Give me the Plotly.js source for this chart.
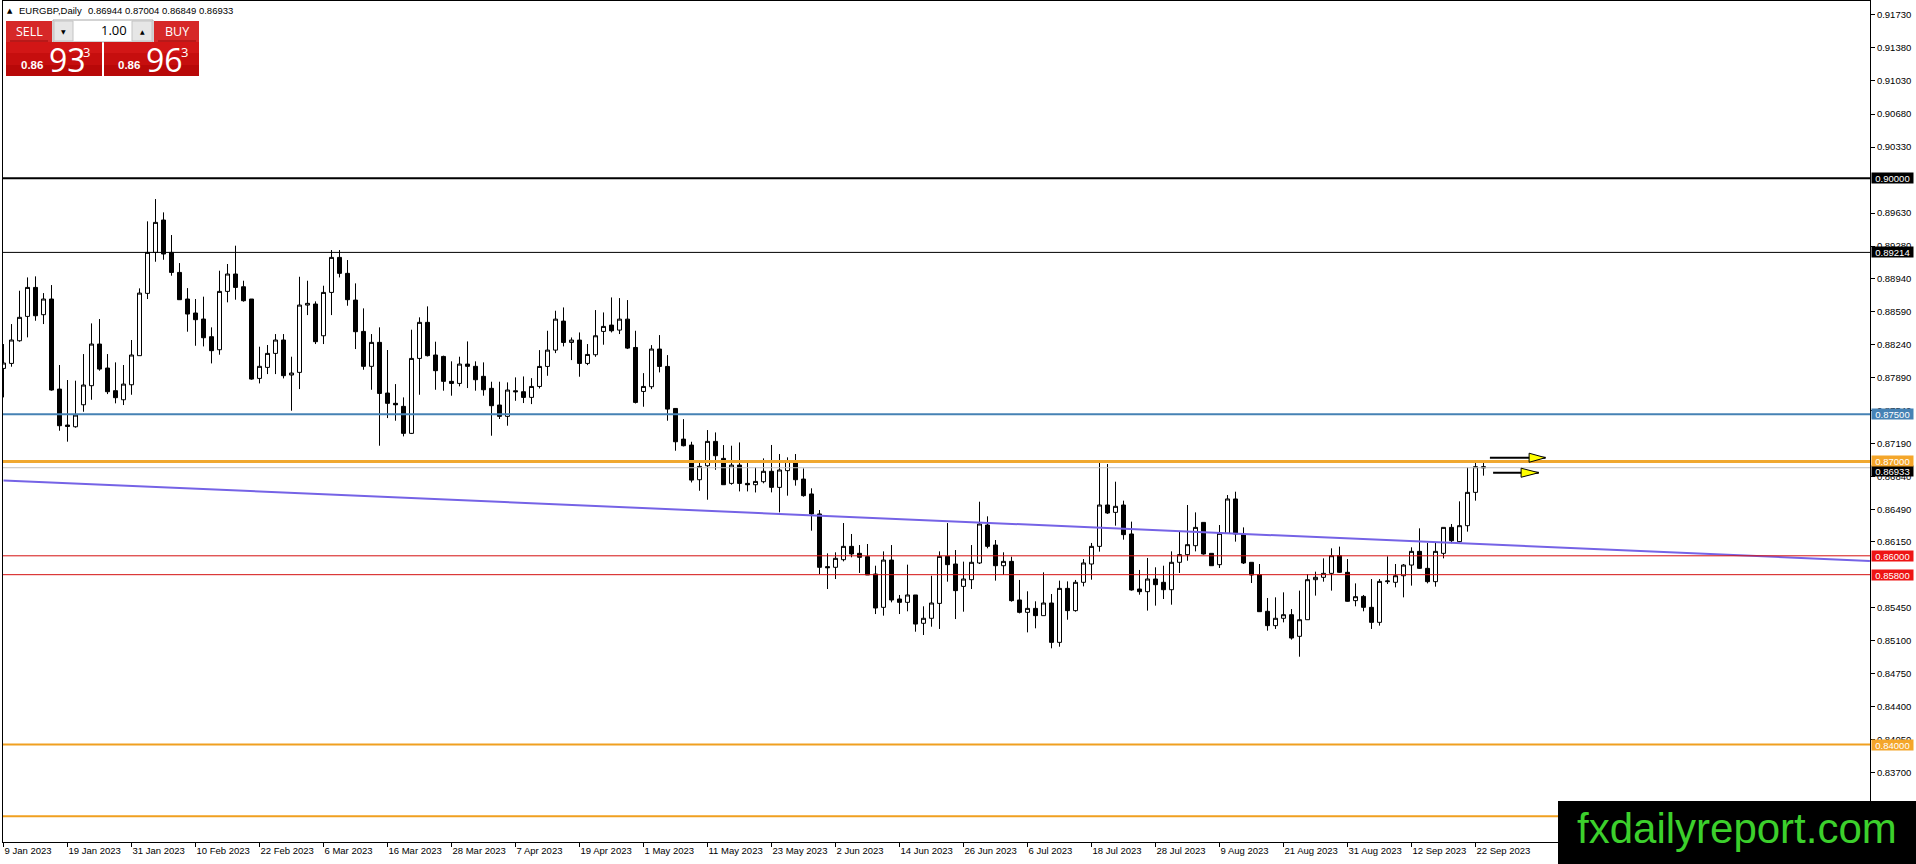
<!DOCTYPE html>
<html><head><meta charset="utf-8">
<script src="https://cdn.plot.ly/plotly-3.0.1.min.js"></script>
<style>html,body{margin:0;padding:0;background:#fff;overflow:hidden}#chart{width:1916px;height:864px}</style>
</head><body><div id="chart"></div>
<script>
// ---------------- DATA ----------------
const symbolTitle = "EURGBP,Daily";
const headerQuote = ["0.86944", "0.87004", "0.86849", "0.86933"];
const sellQuote = ["0.86", "93", "3"];
const buyQuote = ["0.86", "96", "3"];
const lotSize = "1.00";

const openP = [
0.87985,0.88038,0.88278,0.88536,0.88843,0.88554,0.88720,0.87766,0.87385,0.87367,
0.87600,0.87802,0.88243,0.87989,0.87749,0.87653,0.87812,0.88120,0.88780,0.89214,
0.89557,0.89214,0.89002,0.88720,0.88572,0.88508,0.88321,0.88183,0.88801,0.88985,
0.88850,0.88720,0.87879,0.87996,0.88144,0.88286,0.87915,0.87943,0.88656,0.88667,
0.88331,0.88790,0.89161,0.88992,0.88709,0.88377,0.88007,0.88261,0.87724,0.87615,
0.87583,0.87297,0.88091,0.88473,0.88127,0.88112,0.87848,0.87826,0.88031,0.88007,
0.87901,0.87774,0.87597,0.87477,0.87748,0.87738,0.87678,0.87794,0.88006,0.88179,
0.88486,0.88260,0.88285,0.88038,0.88130,0.88377,0.88444,0.88391,0.88507,0.88207,
0.87741,0.87791,0.88190,0.88006,0.87561,0.87236,0.87173,0.86806,0.86954,0.87212,
0.87032,0.86767,0.86961,0.86767,0.86753,0.86785,0.86895,0.86725,0.86902,0.87001,
0.86813,0.86655,0.86443,0.85885,0.85878,0.85959,0.86100,0.86026,0.85991,0.85807,
0.85454,0.85955,0.85542,0.85507,0.85585,0.85285,0.85338,0.85496,0.85994,0.85913,
0.85676,0.85747,0.85924,0.86326,0.86114,0.85895,0.85941,0.85532,0.85401,0.85443,
0.85366,0.85500,0.85083,0.85655,0.85419,0.85719,0.85913,0.86100,0.86538,0.86460,
0.86538,0.86231,0.85648,0.85620,0.85754,0.85719,0.85641,0.85931,0.86012,0.86107,
0.86354,0.86026,0.85906,0.86238,0.86602,0.86231,0.85931,0.85800,0.85412,0.85260,
0.85338,0.85376,0.85147,0.85323,0.85747,0.85772,0.85814,0.86001,0.85825,0.85525,
0.85570,0.85454,0.85295,0.85726,0.85719,0.85789,0.85902,0.86047,0.85867,0.85726,
0.86026,0.86301,0.86150,0.86319,0.86672,0.86944];
const highP = [
0.88243,0.88455,0.88808,0.88949,0.88960,0.88783,0.88868,0.88021,0.87862,0.87855,
0.88137,0.88462,0.88508,0.88137,0.88049,0.88021,0.88286,0.88833,0.89543,0.89779,
0.89638,0.89398,0.89101,0.88836,0.88720,0.88745,0.88420,0.89020,0.89091,0.89285,
0.88914,0.88720,0.88215,0.88233,0.88349,0.88349,0.88109,0.88956,0.88914,0.88695,
0.88861,0.89239,0.89239,0.89133,0.88886,0.88621,0.88349,0.88420,0.88180,0.87819,
0.87678,0.88395,0.88526,0.88642,0.88268,0.88120,0.88060,0.88109,0.88271,0.88060,
0.88049,0.87844,0.87844,0.87837,0.87890,0.87900,0.87882,0.88179,0.88384,0.88596,
0.88631,0.88313,0.88366,0.88243,0.88603,0.88578,0.88737,0.88730,0.88709,0.88384,
0.87935,0.88232,0.88338,0.88126,0.87561,0.87448,0.87208,0.87014,0.87332,0.87307,
0.87173,0.87166,0.87201,0.86996,0.86936,0.87032,0.87174,0.87078,0.87043,0.87078,
0.86926,0.86715,0.86485,0.86026,0.86037,0.86347,0.86231,0.86114,0.86125,0.85895,
0.86047,0.86114,0.85585,0.85906,0.85585,0.85465,0.85789,0.86047,0.86347,0.86061,
0.85938,0.86114,0.86573,0.86418,0.86167,0.86037,0.85991,0.85744,0.85624,0.85518,
0.85825,0.85595,0.85737,0.85729,0.85744,0.85966,0.86136,0.86997,0.86972,0.86785,
0.86584,0.86362,0.85850,0.85977,0.85878,0.85895,0.86047,0.86259,0.86538,0.86460,
0.86354,0.86026,0.86326,0.86644,0.86679,0.86301,0.85931,0.85913,0.85553,0.85560,
0.85613,0.85436,0.85631,0.85807,0.85832,0.85973,0.86079,0.86097,0.85966,0.85708,
0.85585,0.85754,0.85754,0.85994,0.85913,0.85913,0.86090,0.86291,0.86136,0.86136,
0.86301,0.86337,0.86577,0.86937,0.86983,0.87004];
const lowP = [
0.87678,0.88003,0.88268,0.88314,0.88490,0.88455,0.87749,0.87325,0.87209,0.87357,
0.87526,0.87653,0.87961,0.87713,0.87615,0.87597,0.87706,0.88120,0.88720,0.89115,
0.89136,0.88967,0.88713,0.88374,0.88225,0.88218,0.88038,0.88130,0.88685,0.88713,
0.88692,0.87865,0.87826,0.87925,0.87925,0.87879,0.87537,0.87766,0.88550,0.88243,
0.88243,0.88550,0.88949,0.88649,0.88190,0.87971,0.87759,0.87166,0.87459,0.87431,
0.87265,0.87290,0.87706,0.88112,0.87759,0.87749,0.87696,0.87795,0.87777,0.87749,
0.87696,0.87272,0.87449,0.87378,0.87642,0.87618,0.87607,0.87773,0.87907,0.88147,
0.88218,0.88073,0.87897,0.88020,0.88108,0.88236,0.88366,0.88349,0.88190,0.87614,
0.87579,0.87766,0.87943,0.87431,0.87113,0.87159,0.86777,0.86689,0.86594,0.86911,
0.86753,0.86753,0.86682,0.86682,0.86671,0.86768,0.86672,0.86460,0.86637,0.86743,
0.86626,0.86266,0.85807,0.85648,0.85754,0.85941,0.85984,0.85818,0.85797,0.85383,
0.85366,0.85507,0.85383,0.85412,0.85196,0.85161,0.85249,0.85225,0.85726,0.85330,
0.85408,0.85648,0.85913,0.86079,0.85737,0.85797,0.85514,0.85390,0.85189,0.85232,
0.85366,0.85020,0.85037,0.85323,0.85408,0.85676,0.85747,0.86044,0.86443,0.86319,
0.86171,0.85631,0.85588,0.85419,0.85472,0.85542,0.85482,0.85818,0.85948,0.86047,
0.86012,0.85895,0.85871,0.86231,0.86150,0.85913,0.85712,0.85408,0.85207,0.85225,
0.85295,0.85112,0.84931,0.85323,0.85578,0.85726,0.85631,0.85818,0.85514,0.85465,
0.85412,0.85225,0.85260,0.85701,0.85666,0.85560,0.85684,0.85860,0.85708,0.85673,
0.85973,0.86132,0.86143,0.86256,0.86584,0.86849];
const closeP = [
0.88042,0.88286,0.88526,0.88843,0.88543,0.88720,0.87756,0.87378,0.87371,0.87491,
0.87809,0.88243,0.87978,0.87738,0.87675,0.87819,0.88127,0.88783,0.89214,0.89532,
0.89197,0.89002,0.88713,0.88561,0.88501,0.88310,0.88173,0.88801,0.88985,0.88843,
0.88702,0.87872,0.88007,0.88144,0.88286,0.87908,0.87936,0.88656,0.88674,0.88268,
0.88790,0.89161,0.88992,0.88713,0.88374,0.88007,0.88261,0.87720,0.87615,0.87600,
0.87297,0.88091,0.88473,0.88120,0.87961,0.87848,0.87826,0.88031,0.88007,0.87865,
0.87759,0.87590,0.87477,0.87756,0.87738,0.87678,0.87794,0.88006,0.88179,0.88507,
0.88260,0.88285,0.88038,0.88133,0.88331,0.88430,0.88384,0.88507,0.88200,0.87625,
0.87794,0.88190,0.88006,0.87554,0.87208,0.87166,0.86802,0.86947,0.87212,0.87060,
0.86753,0.86961,0.86767,0.86753,0.86788,0.86895,0.86725,0.86909,0.87001,0.86806,
0.86637,0.86443,0.85878,0.85874,0.85973,0.86100,0.86019,0.85984,0.85797,0.85447,
0.85955,0.85532,0.85507,0.85585,0.85277,0.85338,0.85500,0.85994,0.85906,0.85631,
0.85754,0.85931,0.86337,0.86100,0.85895,0.85941,0.85525,0.85401,0.85443,0.85366,
0.85500,0.85083,0.85655,0.85419,0.85719,0.85924,0.86100,0.86538,0.86453,0.86524,
0.86224,0.85638,0.85620,0.85754,0.85694,0.85641,0.85931,0.86012,0.86118,0.86301,
0.86019,0.85895,0.86238,0.86602,0.86231,0.85924,0.85797,0.85408,0.85260,0.85338,
0.85376,0.85129,0.85323,0.85747,0.85772,0.85814,0.86001,0.85825,0.85518,0.85567,
0.85454,0.85295,0.85729,0.85733,0.85789,0.85902,0.86047,0.85867,0.85726,0.86047,
0.86301,0.86160,0.86319,0.86672,0.86944,0.86933];

const xTickLabels = ["9 Jan 2023","19 Jan 2023","31 Jan 2023","10 Feb 2023","22 Feb 2023","6 Mar 2023",
  "16 Mar 2023","28 Mar 2023","7 Apr 2023","19 Apr 2023","1 May 2023","11 May 2023","23 May 2023",
  "2 Jun 2023","14 Jun 2023","26 Jun 2023","6 Jul 2023","18 Jul 2023","28 Jul 2023","9 Aug 2023",
  "21 Aug 2023","31 Aug 2023","12 Sep 2023","22 Sep 2023"];
const barsPerTick = 8;
// visible price scale labels (those fully hidden under level boxes / watermark are not drawn)
const yTickLabels = ["0.91730","0.91380","0.91030","0.90680","0.90330","0.89630","0.89280",
  "0.88940","0.88590","0.88240","0.87890","0.87540","0.87190","0.86840","0.86490","0.86150",
  "0.85450","0.85100","0.84750","0.84400","0.84050","0.83700"];

// horizontal levels (bid line first so the other boxes are drawn over it)
const levelPrices = [0.86933, 0.90000, 0.89214, 0.87500, 0.87000, 0.86000, 0.85800, 0.84000, 0.83240];
const levelColors = ["#C0C0C0","#000000","#000000","#4682B4","#F0A830","#D41010","#D41010","#F0A020","#F0A020"];
const levelWidths = [1, 2, 1, 2, 3, 1, 1, 2, 2];
const levelLabelBg = ["#000000","#000000","#000000","#4682B4","#F4A62A","#EE1414","#EE1414","#F4A62A", null];
const levelLabelShift = [-3.5, 0, 0, 0, 0, 0, 0, 0, 0];

// trend line (bar index, price)
const trendX = [0, 233.3];
const trendY = [0.86798, 0.85946];

// arrow objects
const arrowStart = [185.8, 186.2];
const arrowHead = [190.7, 189.7];
const arrowTip = [192.75, 191.9];
const arrowPrice = [0.87039, 0.86880];

const watermark = "fxdailyreport.com";

// ---------------- LAYOUT ----------------
const W = 1916, H = 864, ML = 3, MR = 46, MT = 1, MB = 22;
const PW = W - ML - MR, PH = H - MT - MB;
const px = x => (x - ML) / PW;
const py = y => (H - MB - y) / PH;
const FONT = "Liberation Sans, Arial, sans-serif";

const idx = openP.map((_, i) => i);

const traces = [{
  type: 'candlestick', x: idx, open: openP, high: highP, low: lowP, close: closeP,
  increasing: {line: {color: '#000', width: 1}, fillcolor: '#ffffff'},
  decreasing: {line: {color: '#000', width: 1}, fillcolor: '#000000'},
  whiskerwidth: 0, hoverinfo: 'skip', showlegend: false
}, {
  type: 'scatter', mode: 'lines', x: trendX, y: trendY,
  line: {color: '#7563E6', width: 2}, hoverinfo: 'skip', showlegend: false
}];

const shapes = [];
const annotations = [];

levelPrices.forEach((p, i) => {
  shapes.push({type: 'line', xref: 'paper', x0: 0, x1: 1, yref: 'y', y0: p, y1: p,
    line: {color: levelColors[i], width: levelWidths[i]}, layer: 'above'});
});

// arrows
arrowPrice.forEach((p, i) => {
  shapes.push({type: 'line', xref: 'x', yref: 'y', x0: arrowStart[i], x1: arrowTip[i], y0: p, y1: p,
    line: {color: '#000', width: 2}, layer: 'above'});
  const hh = 0.00048;
  shapes.push({type: 'path', xref: 'x', yref: 'y',
    path: `M ${arrowHead[i]},${p + hh} L ${arrowTip[i]},${p} L ${arrowHead[i]},${p - hh} Z`,
    fillcolor: '#FFFF00', line: {color: '#000', width: 1}, layer: 'above'});
});

// watermark box
shapes.push({type: 'rect', xref: 'paper', yref: 'paper', x0: px(1558), x1: px(1920), y0: py(868), y1: py(801),
  fillcolor: '#000', line: {width: 0}, layer: 'above'});
annotations.push({xref: 'paper', yref: 'paper', x: px(1737), y: py(828), xanchor: 'center', yanchor: 'middle',
  text: watermark, showarrow: false, font: {family: FONT, size: 42, color: '#3CD02C'}});

// price labels on right axis
levelPrices.forEach((p, i) => {
  if (!levelLabelBg[i]) return;
  annotations.push({xref: 'paper', x: 1, xanchor: 'left', xshift: 1, yref: 'y', y: p, yanchor: 'middle',
    yshift: levelLabelShift[i],
    text: p.toFixed(5), showarrow: false, bgcolor: levelLabelBg[i], borderpad: 0, width: 41, height: 10,
    font: {family: FONT, size: 9.5, color: '#ffffff'}});
});

// header text
annotations.push({xref: 'paper', yref: 'paper', x: px(6), y: py(11), xanchor: 'left', yanchor: 'middle',
  text: '▲', showarrow: false, borderpad: 0, font: {family: 'DejaVu Sans', size: 7, color: '#000'}});
annotations.push({xref: 'paper', yref: 'paper', x: px(18), y: py(11), xanchor: 'left', yanchor: 'middle',
  text: symbolTitle, showarrow: false, borderpad: 0, font: {family: FONT, size: 9.5, color: '#000'}});
annotations.push({xref: 'paper', yref: 'paper', x: px(87), y: py(11), xanchor: 'left', yanchor: 'middle',
  text: headerQuote.join(' '), showarrow: false, borderpad: 0, font: {family: FONT, size: 9.5, color: '#000'}});

// one-click trading panel
function rect(x0, y0, x1, y1, fill, lineColor, lw) {
  shapes.push({type: 'rect', xref: 'paper', yref: 'paper', x0: px(x0), x1: px(x1), y0: py(y1), y1: py(y0),
    fillcolor: fill, line: {color: lineColor || fill, width: lw || 0}, layer: 'above'});
}
rect(6, 21, 52, 42, '#D62828');
rect(154, 21, 199, 42, '#D62828');
rect(10, 40.5, 48, 41.5, '#9A0A0A');
rect(158, 40.5, 196, 41.5, '#9A0A0A');
rect(53, 20, 153, 42, '#ffffff', '#A8A8A8', 1);
rect(54, 21, 73, 41, '#E6E6E6', '#C4C4C4', 1);
rect(132, 21, 152, 41, '#E6E6E6', '#C4C4C4', 1);
[[6, 102], [104, 199]].forEach(([a, b]) => {
  rect(a, 42, b, 53, '#D21616');
  rect(a, 53, b, 65, '#C60E0E');
  rect(a, 65, b, 76, '#B80808');
});
function txt(x, y, t, size, color, anchor, weight, family) {
  annotations.push({xref: 'paper', yref: 'paper', x: px(x), y: py(y), xanchor: anchor || 'left', yanchor: 'middle',
    text: t, showarrow: false, borderpad: 0,
    font: {family: family || FONT, size: size, color: color, weight: weight || 'normal'}});
}
txt(29, 31, 'SELL', 12.5, '#fff', 'center', 'normal', 'Open Sans');
txt(176.5, 31, 'BUY', 12.5, '#fff', 'center', 'normal', 'Open Sans');
txt(128, 30.5, lotSize, 13, '#000', 'right', 'normal', 'Open Sans');
txt(63.5, 31, '▼', 6, '#000', 'center', 'normal', 'DejaVu Sans');
txt(142, 31, '▲', 6, '#000', 'center', 'normal', 'DejaVu Sans');
txt(20, 64.5, sellQuote[0], 11.5, '#fff', 'left', 'bold', FONT);
txt(48, 59, sellQuote[1], 32, '#fff', 'left', 'normal', 'Open Sans');
txt(82, 51.5, sellQuote[2], 13, '#fff', 'left', 'normal', 'Open Sans');
txt(117, 64.5, buyQuote[0], 11.5, '#fff', 'left', 'bold', FONT);
txt(145, 59, buyQuote[1], 32, '#fff', 'left', 'normal', 'Open Sans');
txt(180, 51.5, buyQuote[2], 13, '#fff', 'left', 'normal', 'Open Sans');

const layout = {
  width: W, height: H,
  margin: {l: ML, r: MR, t: MT, b: MB, pad: 0},
  paper_bgcolor: '#ffffff', plot_bgcolor: '#ffffff',
  showlegend: false, hovermode: false, dragmode: false,
  boxgap: 0.5, boxgroupgap: 0,
  xaxis: {
    type: 'linear', range: [-0.0625, 233.3125], autorange: false,
    rangeslider: {visible: false},
    showgrid: false, zeroline: false,
    showline: true, linecolor: '#000', linewidth: 1, mirror: true,
    ticks: 'outside', ticklen: 4, tickwidth: 1, tickcolor: '#000',
    tickvals: xTickLabels.map((_, i) => i * barsPerTick), ticktext: xTickLabels,
    ticklabelposition: 'outside right',
    tickfont: {family: FONT, size: 9.5, color: '#000'},
    automargin: false, fixedrange: true
  },
  yaxis: {
    side: 'right', range: [0.829682, 0.918771], autorange: false,
    showgrid: false, zeroline: false,
    showline: true, linecolor: '#000', linewidth: 1, mirror: true,
    ticks: 'outside', ticklen: 4, tickwidth: 1, tickcolor: '#000',
    tickvals: yTickLabels.map(Number), ticktext: yTickLabels,
    tickfont: {family: FONT, size: 9.5, color: '#000'},
    automargin: false, fixedrange: true
  },
  shapes: shapes,
  annotations: annotations
};

Plotly.newPlot('chart', traces, layout, {staticPlot: true, displayModeBar: false});
</script>
</body></html>
